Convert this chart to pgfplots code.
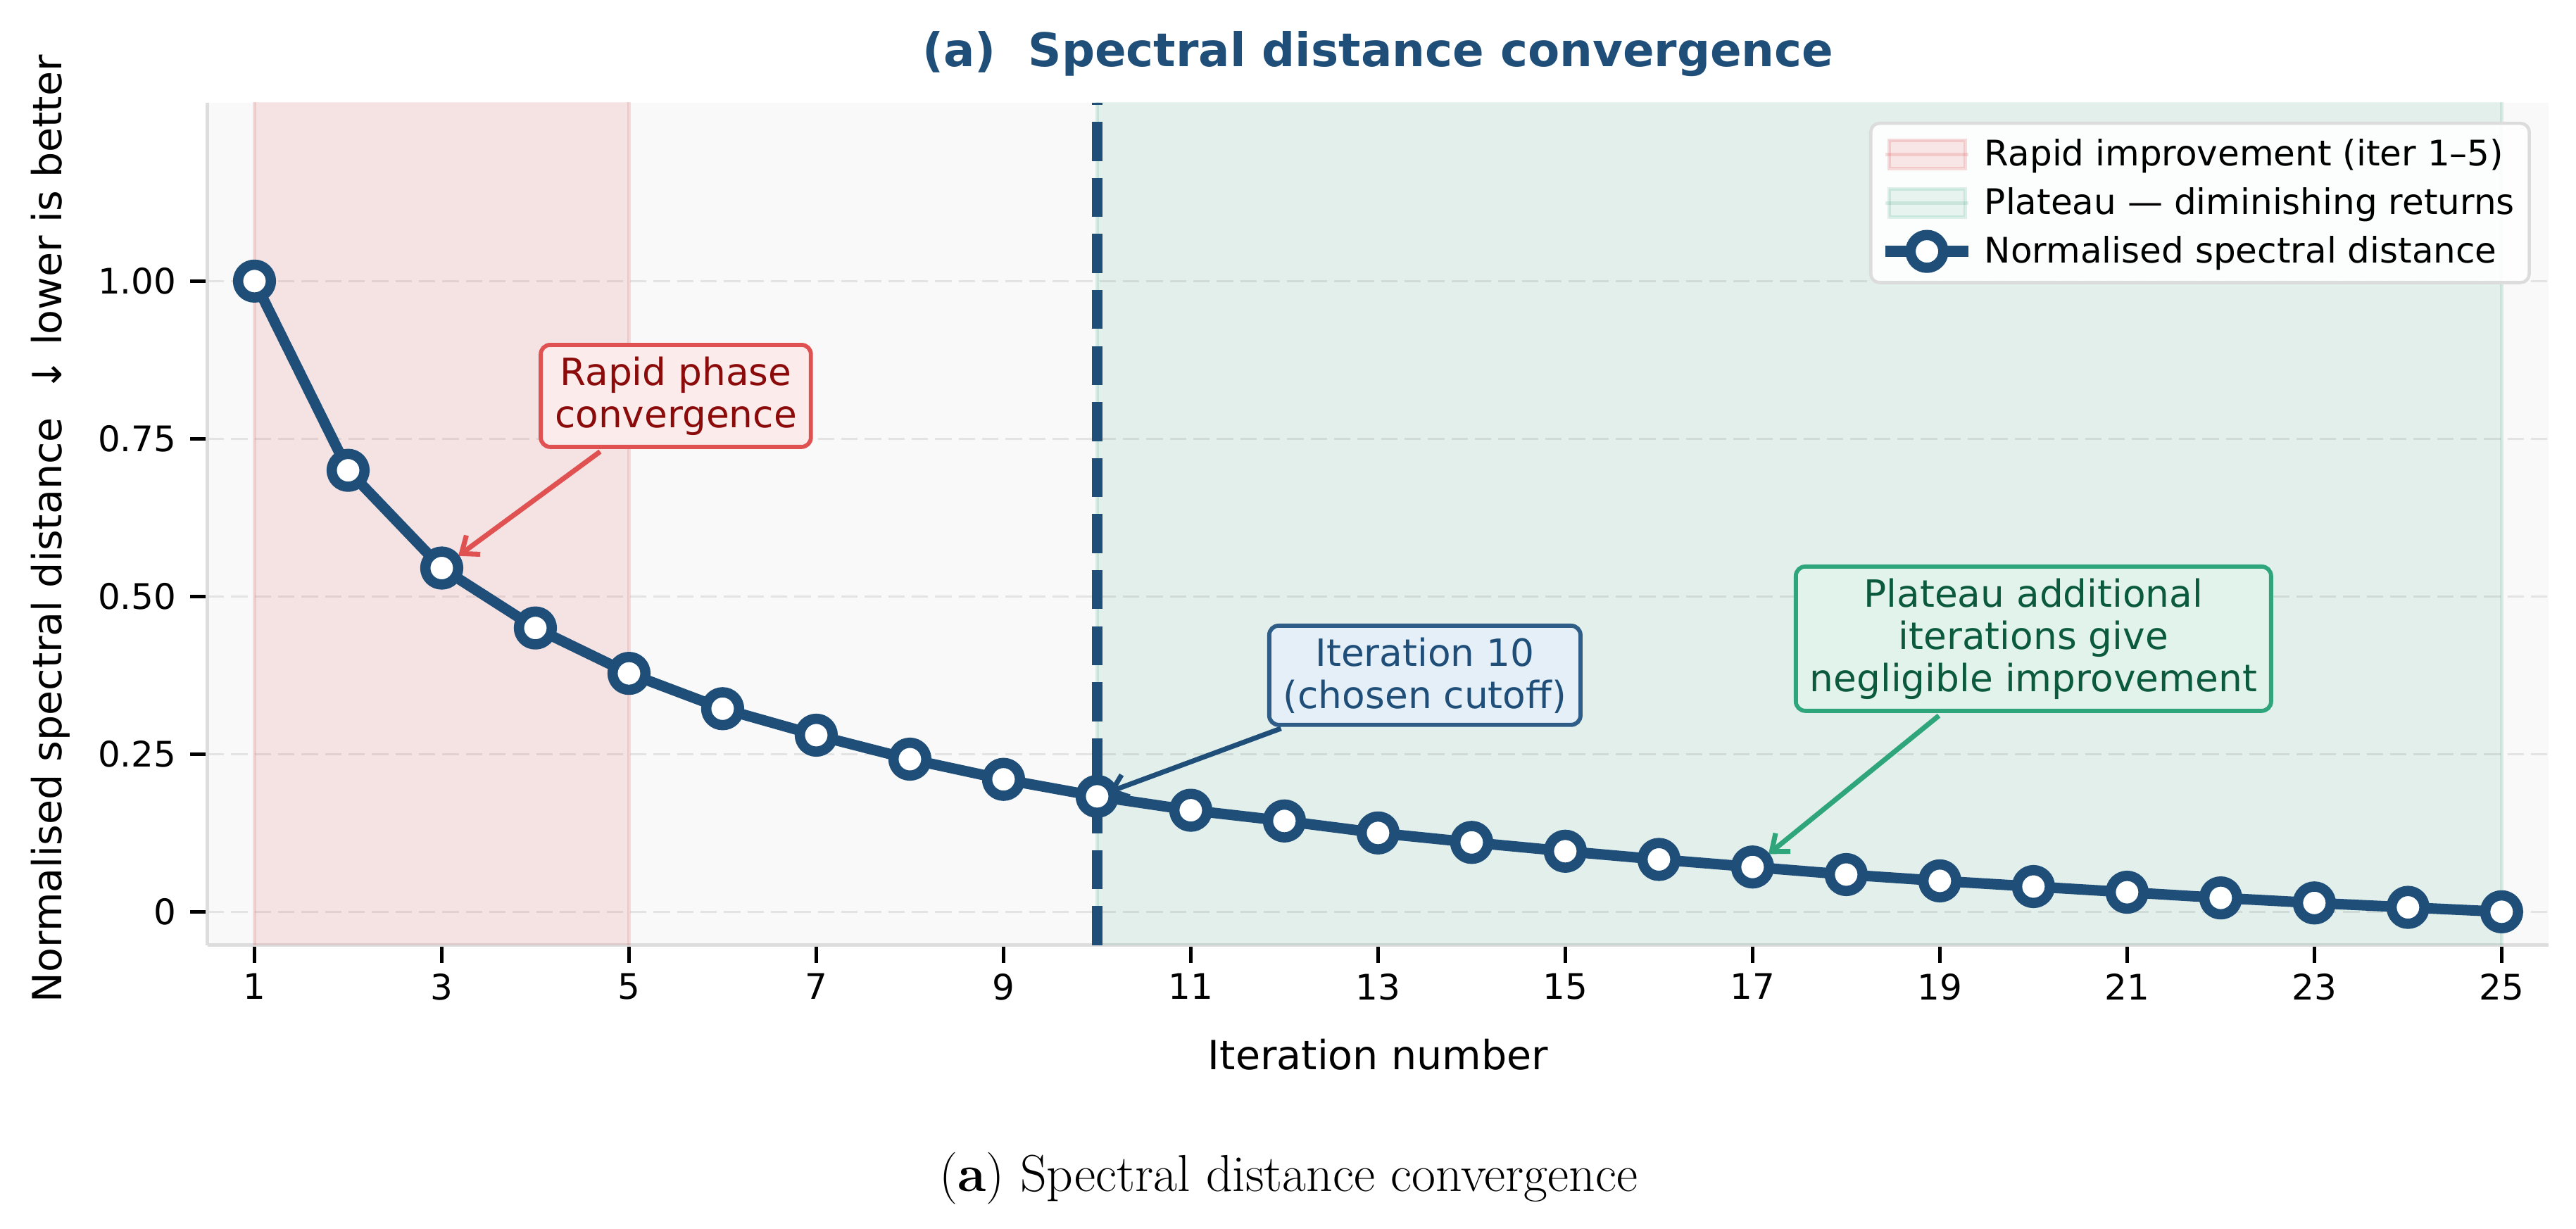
\documentclass[border=0pt]{standalone}
\usepackage{fontspec}
\setmainfont{DejaVu Sans}
\newfontfamily\capfont{Latin Modern Roman}
\usepackage{pgfplots}
\pgfplotsset{compat=1.18}
\usetikzlibrary{arrows.meta}

\definecolor{cmain}{HTML}{1F4E79}
\definecolor{cred}{HTML}{E05050}
\definecolor{cgreen}{HTML}{2A9D74}
\definecolor{cbg}{HTML}{F9F9F9}
\definecolor{cgrid}{HTML}{E3E3E3}
\definecolor{cspine}{HTML}{DDDDDD}
\definecolor{cleg}{HTML}{DCDCDC}
\definecolor{rtext}{HTML}{8B0A0A}
\definecolor{rdraw}{HTML}{E05252}
\definecolor{rfill}{HTML}{FCEBEB}
\definecolor{bdraw}{HTML}{2E5D88}
\definecolor{bfill}{HTML}{E5EFF8}
\definecolor{gtext}{HTML}{0B5A3E}
\definecolor{gdraw}{HTML}{2EA57A}
\definecolor{gfill}{HTML}{E1F3EB}

\pgfplotstableread{
x y
1 1.000
2 0.700
3 0.545
4 0.450
5 0.378
6 0.322
7 0.280
8 0.242
9 0.210
10 0.183
11 0.161
12 0.144
13 0.125
14 0.110
15 0.096
16 0.083
17 0.071
18 0.059
19 0.049
20 0.040
21 0.031
22 0.022
23 0.014
24 0.007
25 0.000
}\dist

\begin{document}
\begin{tikzpicture}
\useasboundingbox (-70.8pt,-96.7pt) rectangle (807.4pt,322.3pt);
\begin{axis}[
  scale only axis, width=798pt, height=287.3pt,
  xmin=0.5, xmax=25.5, ymin=-0.053, ymax=1.283,
  axis background/.style={fill=cbg},
  axis x line*=bottom, axis y line*=left,
  axis line style={cspine, line width=1.2pt, -},
  every outer x axis line/.append style={-},
  every outer y axis line/.append style={-},
  xtick={1,3,5,7,9,11,13,15,17,19,21,23,25},
  xticklabels={1,3,5,7,9,11,13,15,17,19,21,23,25},
  ytick={0,0.25,0.5,0.75,1},
  yticklabels={0,0.25,0.50,0.75,1.00},
  tick align=outside, major tick length=6pt,
  tick style={black, line width=1.2pt},
  minor tick num=0,
  ymajorgrids,
  grid style={cgrid, line width=0.8pt, dash pattern=on 5.6pt off 2.4pt},
  ticklabel style={font=\fontsize{12}{14}\selectfont},
  yticklabel style={anchor=east, inner sep=0pt, xshift=-4.5pt},
  xticklabel style={anchor=north, inner sep=0pt, yshift=-3.5pt},
  legend cell align=left,
  legend style={
    at={(0.9925,0.9774)}, anchor=north east,
    draw=cleg, line width=1.1pt, rounded corners=3pt,
    fill=white, fill opacity=0.9, text opacity=1,
    inner xsep=3pt, inner ysep=3.3pt,
    font=\fontsize{12}{14}\selectfont,
    row sep=1.9pt,
    /tikz/every odd column/.append style={column sep=1.5pt},
  },
]
\addplot[fill=cred, fill opacity=0.13, draw=cred, draw opacity=0.18, line width=1.2pt,
  legend image code/.code={%
    \path (0pt,0pt) -- (28.3pt,0pt);
    \draw[sharp corners, fill=cred, fill opacity=0.13, draw=cred, draw opacity=0.2, line width=1.2pt] (1.2pt,-4.8pt) rectangle (27.1pt,4.8pt);}]
  coordinates {(1,-0.3) (5,-0.3) (5,1.6) (1,1.6) (1,-0.3)};
\addlegendentry{Rapid improvement (iter 1–5)}
\addplot[fill=cgreen, fill opacity=0.1, draw=cgreen, draw opacity=0.15, line width=1.2pt,
  legend image code/.code={%
    \path (0pt,0pt) -- (28.3pt,0pt);
    \draw[sharp corners, fill=cgreen, fill opacity=0.1, draw=cgreen, draw opacity=0.15, line width=1.2pt] (1.2pt,-4.8pt) rectangle (27.1pt,4.8pt);}]
  coordinates {(10,-0.3) (25,-0.3) (25,1.6) (10,1.6) (10,-0.3)};
\addlegendentry{Plateau — diminishing returns}
\addplot[cmain, line width=3.6pt, dash pattern=on 13.3pt off 5.8pt, forget plot]
  coordinates {(10,-0.053) (10,1.283)};
\addplot[cmain, line width=3.6pt, line join=round, mark=*, mark size=5.6pt,
  mark options={fill=white, draw=cmain, line width=3.5pt, solid},
  legend image code/.code={%
    \draw[sharp corners, cmain, line width=4pt, draw opacity=1] (0pt,0pt) -- (28.3pt,0pt);
    \draw[cmain, fill=white, fill opacity=1, draw opacity=1, line width=3.5pt] (14.15pt,0pt) circle (5.6pt);}]
  table[x=x, y=y] {\dist};
\addlegendentry{Normalised spectral distance}

\node[draw=rdraw, fill=rfill, text=rtext, line width=1.4pt, rounded corners=3.2pt,
  inner xsep=4.8pt, inner ysep=4pt, align=center, font=\fontsize{12.8}{14.4}\selectfont]
  (ra) at (axis cs:5.5,0.818) {Rapid phase\\convergence};
\draw[rdraw, line width=1.7pt, shorten <=1.5pt, shorten >=7pt, -{Straight Barb[length=5pt,width=8pt]}]
  (ra) -- (axis cs:3,0.545);

\node[draw=bdraw, fill=bfill, text=cmain, line width=1.4pt, rounded corners=3.2pt,
  inner xsep=4.8pt, inner ysep=4pt, align=center, font=\fontsize{12.8}{14.4}\selectfont]
  (it) at (axis cs:13.5,0.375) {Iteration 10\\(chosen cutoff)};
\draw[cmain, line width=1.7pt, shorten <=1.5pt, shorten >=4pt, -{Straight Barb[length=5pt,width=8pt]}]
  (it) -- (axis cs:10,0.183);

\node[draw=gdraw, fill=gfill, text=gtext, line width=1.4pt, rounded corners=3.2pt,
  inner xsep=4.8pt, inner ysep=4pt, align=center, font=\fontsize{12.8}{14.4}\selectfont]
  (pl) at (axis cs:20,0.433) {Plateau additional\\iterations give\\negligible improvement};
\draw[gdraw, line width=1.7pt, shorten <=1.5pt, shorten >=7pt, -{Straight Barb[length=5pt,width=8pt]}]
  (pl) -- (axis cs:17,0.071);
\end{axis}

\node[anchor=base, text=cmain, font=\bfseries\fontsize{15.8}{18}\selectfont] at (399pt,299.5pt)
  {(a)\ \ Spectral distance convergence};
\node[anchor=base, font=\fontsize{13.7}{16}\selectfont] at (399pt,-42.5pt) {Iteration number};
\node[anchor=base, rotate=90, font=\fontsize{13.7}{16}\selectfont] at (-49.9pt,142pt)
  {Normalised spectral distance\ \ ↓ lower is better};
\node[anchor=base, font=\capfont\fontsize{17.7}{20}\selectfont] at (368.5pt,-84pt)
  {(\textbf{a}) Spectral distance convergence};
\end{tikzpicture}
\end{document}
